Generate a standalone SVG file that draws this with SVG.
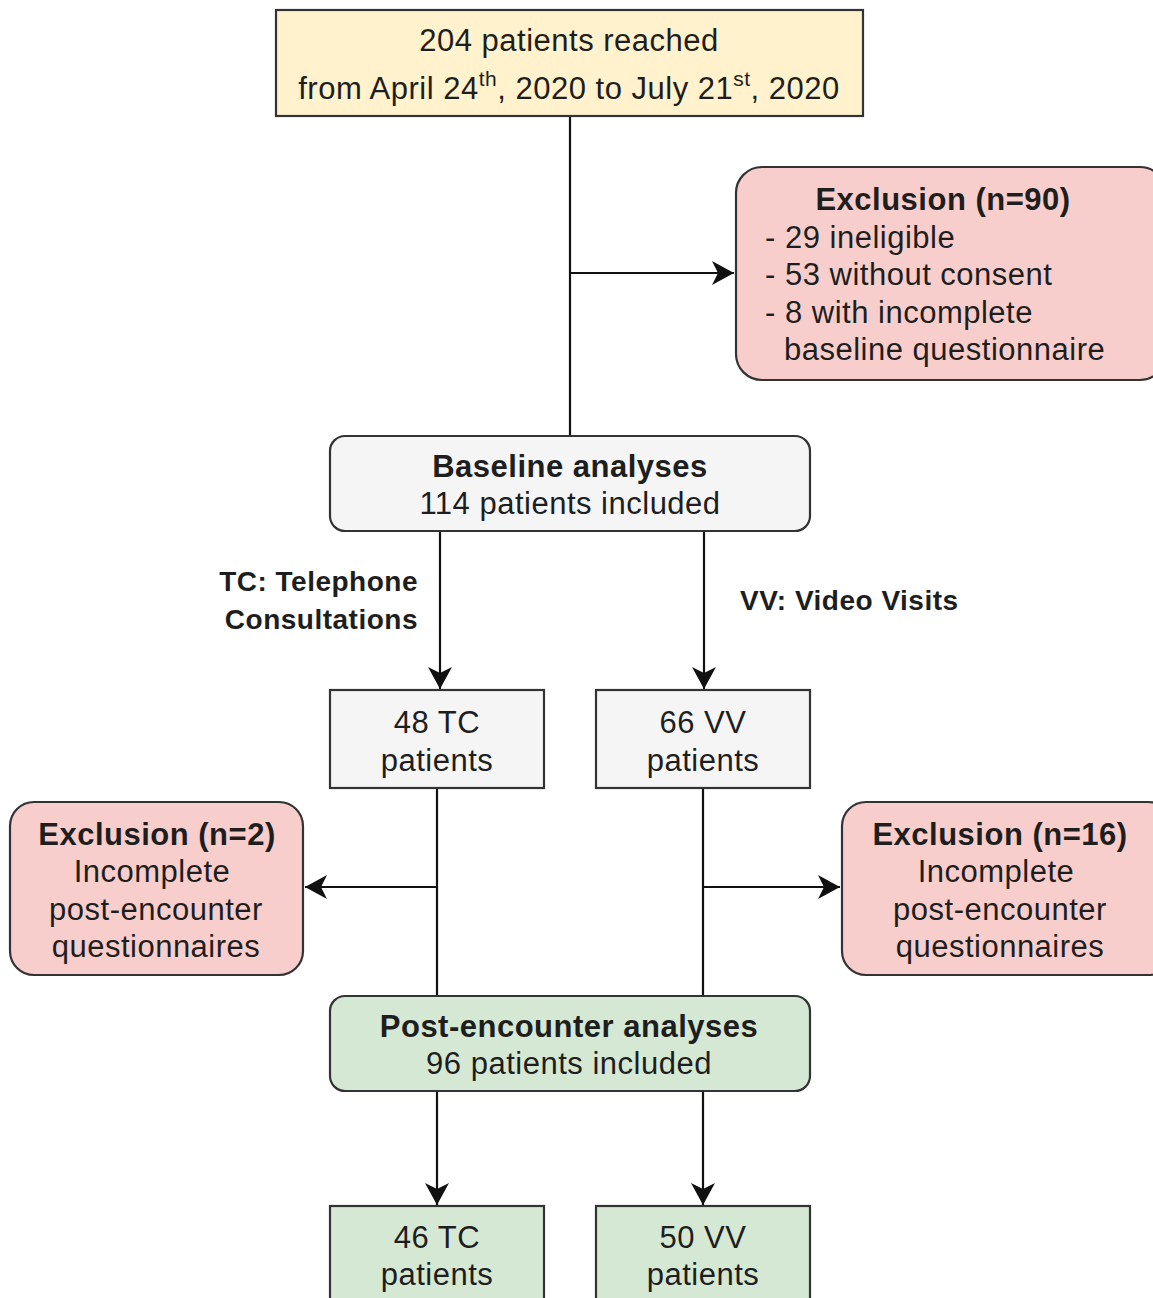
<svg xmlns="http://www.w3.org/2000/svg" width="1153" height="1298" viewBox="0 0 1153 1298">
<defs>
<marker id="arr" markerWidth="26" markerHeight="26" refX="22" refY="13" orient="auto" markerUnits="userSpaceOnUse">
<path d="M0,1 L22,13 L0,25 L6,13 Z" fill="#111"/>
</marker>
<style>
text{font-family:"Liberation Sans",Arial,Helvetica,sans-serif;fill:#1e1e1e;font-size:31px;letter-spacing:0.5px}
.c{text-anchor:middle}
.b{font-weight:bold}
.lbl{font-size:28px;font-weight:bold}
.box{stroke:#333;stroke-width:2.2}
.yel{fill:#fff2cc}
.red{fill:#f8cecc}
.gry{fill:#f5f5f5}
.grn{fill:#d5e8d4}
.ln{stroke:#111;stroke-width:2.2;fill:none}
</style>
</defs>
<rect width="1153" height="1298" fill="#fff"/>
<g id="connectors">
<path class="ln" d="M570,116 V436"/>
<path class="ln" d="M570,273 H734" marker-end="url(#arr)"/>
<path class="ln" d="M440,531 V689" marker-end="url(#arr)"/>
<path class="ln" d="M704,531 V689" marker-end="url(#arr)"/>
<path class="ln" d="M437,788 V996"/>
<path class="ln" d="M437,887 H305" marker-end="url(#arr)"/>
<path class="ln" d="M703,788 V996"/>
<path class="ln" d="M703,887 H840" marker-end="url(#arr)"/>
<path class="ln" d="M437,1091 V1205" marker-end="url(#arr)"/>
<path class="ln" d="M703,1091 V1205" marker-end="url(#arr)"/>
</g>
<g id="n-reached">
<rect class="box yel" x="276" y="10" width="587" height="106"/>
<text class="c" x="569" y="51">204 patients reached</text>
<text class="c" x="569" y="99">from April 24<tspan font-size="21" dy="-13">th</tspan><tspan dy="13">, 2020 to July 21</tspan><tspan font-size="21" dy="-13">st</tspan><tspan dy="13">, 2020</tspan></text>
</g>
<g id="n-excl90">
<rect class="box red" x="736" y="167" width="430" height="213" rx="26"/>
<text class="c b" x="943" y="210">Exclusion (n=90)</text>
<text x="765" y="248">- 29 ineligible</text>
<text x="765" y="285">- 53 without consent</text>
<text x="765" y="323">- 8 with incomplete</text>
<text x="784" y="360">baseline questionnaire</text>
</g>
<g id="n-baseline">
<rect class="box gry" x="330" y="436" width="480" height="95" rx="15"/>
<text class="c b" x="570" y="477">Baseline analyses</text>
<text class="c" x="570" y="514">114 patients included</text>
</g>
<g id="l-tc">
<text class="lbl" x="418" y="591" text-anchor="end">TC: Telephone</text>
<text class="lbl" x="418" y="629" text-anchor="end">Consultations</text>
</g>
<g id="l-vv">
<text class="lbl" x="740" y="610">VV: Video Visits</text>
</g>
<g id="n-tc48">
<rect class="box gry" x="330" y="690" width="214" height="98"/>
<text class="c" x="437" y="733">48 TC</text>
<text class="c" x="437" y="771">patients</text>
</g>
<g id="n-vv66">
<rect class="box gry" x="596" y="690" width="214" height="98"/>
<text class="c" x="703" y="733">66 VV</text>
<text class="c" x="703" y="771">patients</text>
</g>
<g id="n-excl2">
<rect class="box red" x="10" y="802" width="293" height="173" rx="24"/>
<text class="c b" x="157" y="845">Exclusion (n=2)</text>
<text class="c" x="152" y="882">Incomplete</text>
<text class="c" x="156" y="920">post-encounter</text>
<text class="c" x="156" y="957">questionnaires</text>
</g>
<g id="n-excl16">
<rect class="box red" x="842" y="802" width="330" height="173" rx="24"/>
<text class="c b" x="1000" y="845">Exclusion (n=16)</text>
<text class="c" x="996" y="882">Incomplete</text>
<text class="c" x="1000" y="920">post-encounter</text>
<text class="c" x="1000" y="957">questionnaires</text>
</g>
<g id="n-post">
<rect class="box grn" x="330" y="996" width="480" height="95" rx="15"/>
<text class="c b" x="569" y="1037">Post-encounter analyses</text>
<text class="c" x="569" y="1074">96 patients included</text>
</g>
<g id="n-tc46">
<rect class="box grn" x="330" y="1206" width="214" height="110"/>
<text class="c" x="437" y="1248">46 TC</text>
<text class="c" x="437" y="1285">patients</text>
</g>
<g id="n-vv50">
<rect class="box grn" x="596" y="1206" width="214" height="110"/>
<text class="c" x="703" y="1248">50 VV</text>
<text class="c" x="703" y="1285">patients</text>
</g>
</svg>
